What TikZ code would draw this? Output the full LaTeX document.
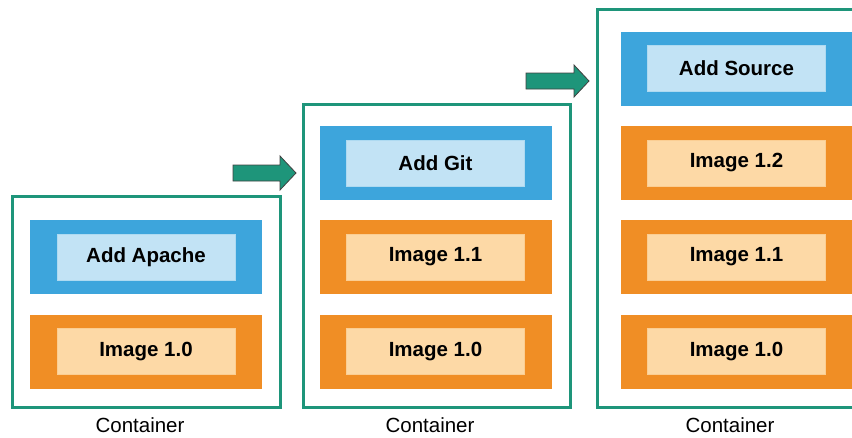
\documentclass[tikz,border=0pt]{standalone}
\usepackage{fontspec}
\setmainfont{Liberation Sans}
\begin{document}
\begin{tikzpicture}[x=1pt,y=-1pt,
  cont/.style={draw=cgreen,line width=3pt,fill=white,inner sep=0pt,minimum width=267pt},
  layerblue/.style={fill=cblue,inner sep=0pt,minimum width=232pt,minimum height=74pt},
  layerorange/.style={fill=corange,inner sep=0pt,minimum width=232pt,minimum height=74pt},
  lblue/.style={fill=clblue,draw=clblue!85!cblue,line width=0.6pt,inner sep=0pt,minimum width=178pt,minimum height=46pt,font=\fontsize{20.5}{24}\selectfont\bfseries},
  lorange/.style={fill=clorange,draw=clorange!85!corange,line width=0.6pt,inner sep=0pt,minimum width=178pt,minimum height=46pt,font=\fontsize{20.5}{24}\selectfont\bfseries},
  caption/.style={font=\fontsize{20.5}{24}\selectfont,inner sep=0pt},
  bigarrow/.style={fill=cgreen,draw=black!75,line width=0.8pt}]
\definecolor{cgreen}{HTML}{1E957A}
\definecolor{cblue}{HTML}{3DA5DC}
\definecolor{clblue}{HTML}{C2E3F5}
\definecolor{corange}{HTML}{F08E25}
\definecolor{clorange}{HTML}{FDD9A6}
\useasboundingbox (0,0) rectangle (852,437);
\clip (0,0) rectangle (852,437);
% container 1
\node[cont,minimum width=268pt,minimum height=211pt] (c1) at (146,301.5) {};
\node[layerblue] (c1b) at (146,257) {};
\node[lblue] (c1bt) at (146,257.5) {Add Apache};
\node[layerorange] (c1o) at (146,351.5) {};
\node[lorange] (c1ot) at (146,351.5) {Image 1.0};
\node[caption] (c1l) at (140,425) {Container};
% container 2
\node[cont,minimum height=303pt] (c2) at (436.5,255.5) {};
\node[layerblue] (c2b) at (435.5,163) {};
\node[lblue] (c2bt) at (435.5,163) {Add Git};
\node[layerorange] (c2o1) at (435.5,257) {};
\node[lorange] (c2o1t) at (435.5,257) {Image 1.1};
\node[layerorange] (c2o2) at (435.5,351.5) {};
\node[lorange] (c2o2t) at (435.5,351.5) {Image 1.0};
\node[caption] (c2l) at (430,425) {Container};
% container 3
\node[cont,minimum height=398pt] (c3) at (730.5,208) {};
\node[layerblue] (c3b) at (736.5,68.5) {};
\node[lblue] (c3bt) at (736.5,68) {Add Source};
\node[layerorange] (c3o1) at (736.5,163) {};
\node[lorange] (c3o1t) at (736.5,163) {Image 1.2};
\node[layerorange] (c3o2) at (736.5,257) {};
\node[lorange] (c3o2t) at (736.5,257) {Image 1.1};
\node[layerorange] (c3o3) at (736.5,351.5) {};
\node[lorange] (c3o3t) at (736.5,351.5) {Image 1.0};
\node[caption] (c3l) at (730,425) {Container};
% arrows
\draw[bigarrow] (233,165) -- (280,165) -- (280,156) -- (296,173) -- (280,190) -- (280,181) -- (233,181) -- cycle;
\draw[bigarrow] (526,73) -- (574,73) -- (574,65) -- (589,81) -- (574,97) -- (574,89) -- (526,89) -- cycle;
\end{tikzpicture}
\end{document}
